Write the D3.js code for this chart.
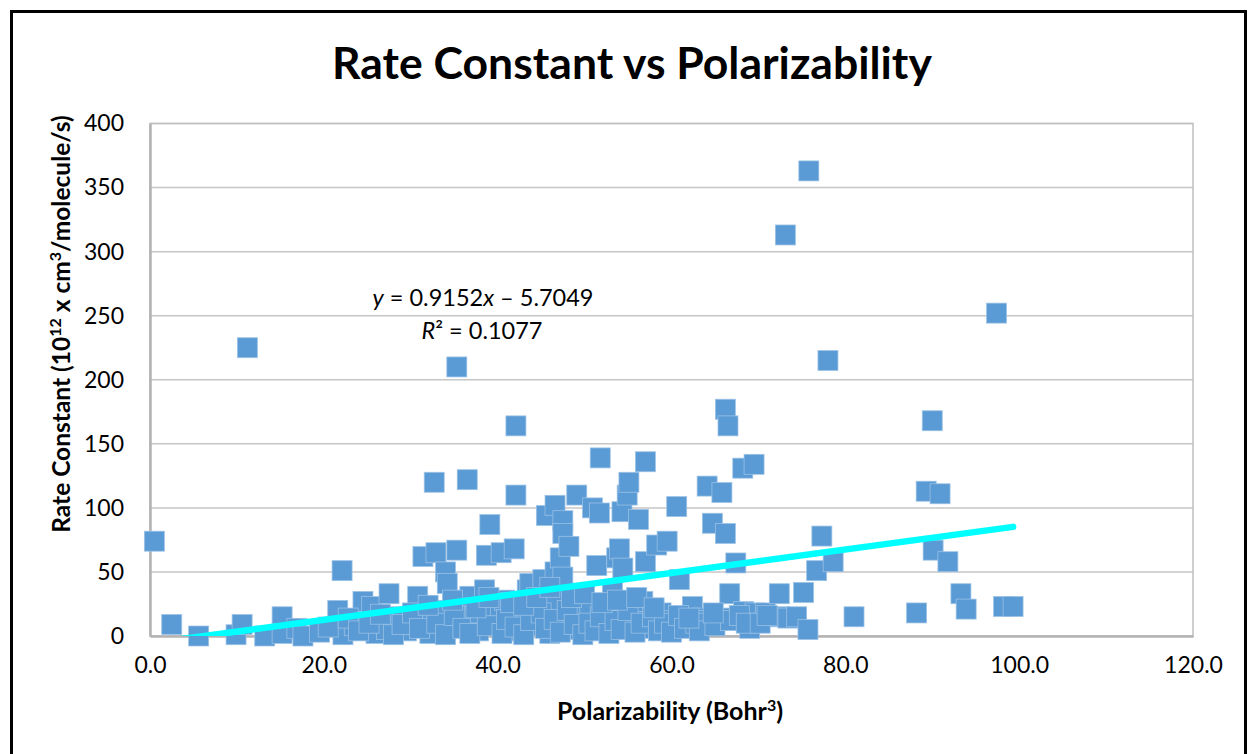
<!DOCTYPE html>
<html>
<head>
<meta charset="utf-8">
<script src="https://cdn.jsdelivr.net/npm/d3@7"></script>
<style>
  html, body { margin: 0; padding: 0; background: #fff; }
  svg { display: block; }
</style>
</head>
<body>
<svg id="chart" width="1248" height="754"></svg>
<script>
// ---- Data ----
const polarizability = [
  0.5, 2.5, 5.6, 9.9, 10.6, 11.2, 13.2, 15.2, 15.2, 16.9, 17.6, 19.5, 21.6, 22.1, 22.2, 23.5,
  24.5, 25.5, 26.0, 26.8, 27.5, 27.2, 28.5, 29.5, 30.8, 31.4, 31.8, 32.2, 32.7, 32.9, 33.5, 34.0,
  34.2, 34.6, 35.3, 35.3, 35.8, 36.5, 36.8, 37.2, 37.8, 38.5, 38.7, 39.1, 39.5, 40.0, 40.4, 40.8,
  41.2, 41.9, 42.1, 42.1, 42.6, 43.4, 43.7, 44.3, 45.2, 45.6, 46.0, 46.6, 46.6, 46.6, 47.2, 47.5,
  47.5, 47.5, 48.2, 48.5, 49.1, 49.5, 50.2, 50.6, 50.9, 51.4, 51.7, 51.8, 52.5, 53.2, 53.7, 54.0,
  54.3, 54.4, 54.9, 55.1, 55.5, 56.2, 56.7, 57.0, 57.0, 57.5, 58.3, 58.8, 59.5, 60.2, 60.6, 60.9,
  61.7, 62.4, 63.5, 64.0, 64.1, 64.7, 65.8, 66.2, 66.2, 66.2, 66.5, 66.7, 67.4, 68.2, 68.3, 69.0,
  69.5, 69.6, 70.8, 72.4, 72.5, 73.1, 73.4, 74.4, 75.2, 75.7, 75.8, 76.7, 77.3, 78.0, 78.6, 81.0,
  88.2, 89.3, 90.0, 90.1, 90.9, 91.8, 93.3, 93.9, 97.4, 98.2, 99.3,
  20.5, 22.8, 24.0, 25.2, 26.5, 28.0, 29.0, 30.2, 31.0, 33.0, 34.0, 35.0, 36.0, 36.8, 38.0, 38.8,
  40.5, 41.0, 42.0, 43.0, 43.8, 45.0, 45.5, 46.5, 47.2, 48.0, 48.8, 49.8, 50.5, 51.2, 51.8, 52.8,
  53.5, 54.2, 55.0, 55.8, 56.5, 57.8, 58.5, 59.2, 60.0, 60.8, 61.5, 62.8, 63.2, 65.0, 66.8, 67.8,
  68.6, 70.2, 71.0,
  32.0, 34.8, 37.5, 39.0, 41.5, 43.0, 44.5, 46.0, 48.5, 50.0, 52.0, 53.8, 56.0, 58.0, 62.0, 64.8
];
const rateConstant = [
  74, 9, 0, 1, 9, 225, 0, 15, 2, 6, 0, 3, 20, 51, 1, 8,
  27, 23, 2, 12, 33, 5, 15, 4, 31, 62, 12, 2, 120, 65, 20, 50,
  41, 8, 210, 67, 26, 122, 31, 14, 4, 36, 63, 87, 10, 22, 65, 28,
  4, 68, 164, 110, 16, 36, 41, 8, 44, 94, 2, 102, 50, 28, 61, 90,
  80, 46, 70, 12, 110, 5, 18, 22, 100, 55, 96, 139, 8, 34, 61, 68,
  97, 53, 110, 120, 14, 91, 27, 136, 58, 6, 71, 18, 74, 12, 101, 44,
  9, 23, 14, 12, 117, 88, 112, 177, 80, 14, 164, 33, 57, 131, 19, 6,
  134, 18, 18, 33, 15, 313, 14, 15, 34, 5, 363, 51, 78, 215, 58, 15,
  18, 113, 168, 67, 111, 58, 33, 21, 252, 23, 23,
  7, 14, 4, 10, 17, 1, 9, 18, 6, 10, 1, 16, 6, 2, 18, 8,
  2, 13, 7, 1, 12, 18, 6, 13, 3, 20, 9, 1, 10, 4, 15, 2,
  12, 5, 20, 3, 10, 15, 4, 10, 3, 16, 6, 10, 4, 8, 12, 16,
  10, 10, 16,
  24, 28, 22, 30, 26, 24, 30, 38, 30, 33, 26, 28, 30, 22, 14, 18
];
const xTicks = [0, 20, 40, 60, 80, 100, 120];
const yTicks = [0, 50, 100, 150, 200, 250, 300, 350, 400];
const slope = 0.9152, intercept = -5.7049;
const titleText = "Rate Constant vs Polarizability";

// ---- Layout ----
const svg = d3.select("#chart");
const plot = { left: 150, top: 123.5, right: 1193, bottom: 636 };
const FONT = "Lato, 'Open Sans', 'DejaVu Sans', sans-serif";

// outer chart border
svg.append("rect").attr("x", 11.5).attr("y", 11.5).attr("width", 1234).attr("height", 780)
  .attr("fill", "#fff").attr("stroke", "#000").attr("stroke-width", 3);

const x = d3.scaleLinear().domain([0, 120]).range([plot.left, plot.right]);
const y = d3.scaleLinear().domain([0, 400]).range([plot.bottom, plot.top]);

// gridlines
svg.append("g").selectAll("line").data(yTicks.filter(d => d > 0)).join("line")
  .attr("x1", plot.left).attr("x2", plot.right)
  .attr("y1", d => y(d)).attr("y2", d => y(d))
  .attr("stroke", "#c6c6c6").attr("stroke-width", 1.5);

// plot border
svg.append("rect").attr("x", plot.left).attr("y", plot.top)
  .attr("width", plot.right - plot.left).attr("height", plot.bottom - plot.top)
  .attr("fill", "none").attr("stroke", "#bfbfbf").attr("stroke-width", 1.5);

// axes
const xAxis = d3.axisBottom(x).tickValues(xTicks).tickSize(0).tickPadding(21).tickFormat(d3.format(".1f"));
const gx = svg.append("g").attr("transform", `translate(0,${plot.bottom})`).call(xAxis);
gx.select(".domain").attr("stroke", "#b3b3b3").attr("stroke-width", 2.5);
gx.selectAll("text").attr("font-family", FONT).attr("font-size", 23).attr("fill", "#000");

const yAxis = d3.axisLeft(y).tickValues(yTicks).tickSize(0).tickPadding(26);
const gy = svg.append("g").attr("transform", `translate(${plot.left},0)`).call(yAxis);
gy.select(".domain").attr("stroke", "#b3b3b3").attr("stroke-width", 2.5);
gy.selectAll("text").attr("font-family", FONT).attr("font-size", 23).attr("fill", "#000");

// points
const pts = polarizability.map((px, i) => ({ px, py: rateConstant[i] }));
const S = 20;
svg.append("g").selectAll("rect").data(pts).join("rect")
  .attr("x", d => x(d.px) - S / 2).attr("y", d => y(d.py) - S / 2)
  .attr("width", S).attr("height", S)
  .attr("fill", "#5b9bd5").attr("stroke", "#9dc3e6").attr("stroke-width", 0.75);

// trendline (clipped to plot area)
svg.append("clipPath").attr("id", "plotclip").append("rect")
  .attr("x", plot.left).attr("y", plot.top)
  .attr("width", plot.right - plot.left).attr("height", plot.bottom - plot.top);
const xmin = d3.min(polarizability), xmax = d3.max(polarizability);
svg.append("line").attr("clip-path", "url(#plotclip)")
  .attr("x1", x(xmin)).attr("y1", y(slope * xmin + intercept))
  .attr("x2", x(xmax)).attr("y2", y(slope * xmax + intercept))
  .attr("stroke", "#00ffff").attr("stroke-width", 6.5).attr("stroke-linecap", "round");

// equation
const eq = svg.append("text").attr("x", 483).attr("y", 306).attr("text-anchor", "middle")
  .attr("font-family", FONT).attr("font-size", 23.5).attr("fill", "#000");
eq.append("tspan").attr("font-style", "italic").text("y");
eq.append("tspan").text(" = 0.9152");
eq.append("tspan").attr("font-style", "italic").text("x");
eq.append("tspan").text(" – 5.7049");
const r2 = svg.append("text").attr("x", 482).attr("y", 339).attr("text-anchor", "middle")
  .attr("font-family", FONT).attr("font-size", 23.5).attr("fill", "#000");
r2.append("tspan").attr("font-style", "italic").text("R");
r2.append("tspan").text("² = 0.1077");

// title
svg.append("text").attr("x", 632).attr("y", 79).attr("text-anchor", "middle")
  .attr("font-family", FONT).attr("font-weight", "bold").attr("font-size", 44.5).attr("fill", "#000")
  .text(titleText);

// x axis title
const xt = svg.append("text").attr("x", 670).attr("y", 720).attr("text-anchor", "middle")
  .attr("font-family", FONT).attr("font-weight", "bold").attr("font-size", 25).attr("fill", "#000");
xt.append("tspan").text("Polarizability (Bohr");
xt.append("tspan").attr("baseline-shift", "super").attr("font-size", 16).text("3");
xt.append("tspan").text(")");

// y axis title
const yt = svg.append("text").attr("transform", "translate(70,324) rotate(-90)").attr("text-anchor", "middle")
  .attr("font-family", FONT).attr("font-weight", "bold").attr("font-size", 24.5).attr("fill", "#000");
yt.append("tspan").text("Rate Constant (10");
yt.append("tspan").attr("baseline-shift", "super").attr("font-size", 16).text("12");
yt.append("tspan").text(" x cm");
yt.append("tspan").attr("baseline-shift", "super").attr("font-size", 16).text("3");
yt.append("tspan").text("/molecule/s)");
</script>
</body>
</html>
